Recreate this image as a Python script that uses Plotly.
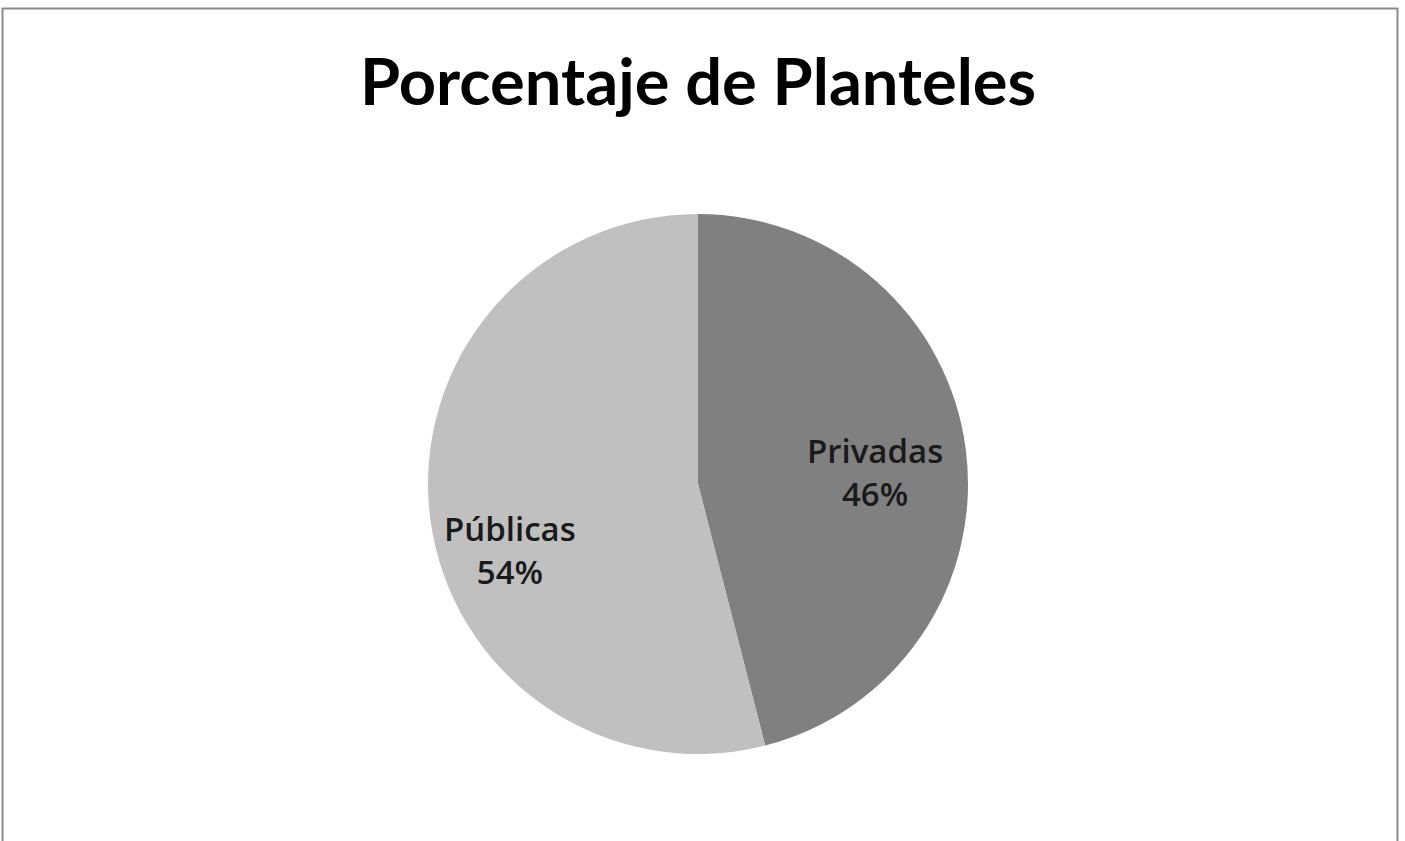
import math
import plotly.graph_objects as go

W, H = 1405, 841

labels = ["Privadas", "Públicas"]
values = [46, 54]
colors = ["#808080", "#c0c0c0"]

# pie geometry (pixels)
CX, CY, R = 698, 484, 270

fig = go.Figure(
    go.Pie(
        labels=labels,
        values=values,
        sort=False,
        direction="clockwise",
        rotation=0,
        marker=dict(colors=colors, line=dict(width=0)),
        textinfo="none",
        domain=dict(x=[(CX - R) / W, (CX + R) / W], y=[1 - (CY + R) / H, 1 - (CY - R) / H]),
        showlegend=False,
        hoverinfo="label+percent",
    )
)

# data labels placed inside each slice, offset from its bisector
total = sum(values)
label_radius = [0.66, 0.70]
label_shift_y = [10, 42]
annotations = []
start = 0.0
for lab, val, rf, sy in zip(labels, values, label_radius, label_shift_y):
    mid = (start + val / 2) / total * 2 * math.pi
    start += val
    px = CX + rf * R * math.sin(mid)
    py = CY - rf * R * math.cos(mid) + sy
    annotations.append(
        dict(
            text=f"{lab}<br>{round(val / total * 100)}%",
            x=px / W, y=1 - py / H, xref="paper", yref="paper",
            xanchor="center", yanchor="middle", showarrow=False,
            font=dict(family="Open Sans", size=33, color="#1a1a1a", weight=600),
        )
    )

annotations.append(
    dict(
        text="<b>Porcentaje de Planteles</b>",
        x=698 / W, y=1 - 80 / H, xref="paper", yref="paper",
        xanchor="center", yanchor="middle", showarrow=False,
        font=dict(family="Lato", size=65, color="#000000"),
    )
)

fig.update_layout(
    width=W,
    height=H,
    margin=dict(l=0, r=0, t=0, b=0),
    paper_bgcolor="#ffffff",
    annotations=annotations,
    shapes=[
        dict(
            type="rect", xref="paper", yref="paper",
            x0=2.5 / W, x1=1397.5 / W, y0=-0.05, y1=1 - 8.5 / H,
            line=dict(color="#8c8c8c", width=2),
            fillcolor="rgba(0,0,0,0)",
        )
    ],
)

fig.write_html("out.html")
